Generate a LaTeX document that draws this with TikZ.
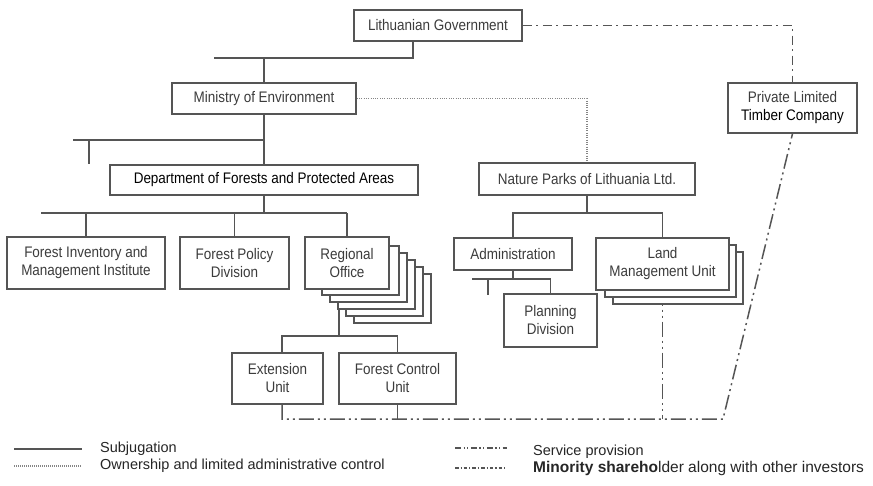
\documentclass[tikz,border=0pt]{standalone}
\usepackage{fontspec}
\setmainfont{Liberation Sans}
\newfontfamily\narrowfont[FakeStretch=0.88]{Liberation Sans}
\usetikzlibrary{calc}
\pgfdeclarelayer{background}
\pgfdeclarelayer{stack}
\pgfsetlayers{background,stack,main}
\definecolor{linegray}{HTML}{555555}
\definecolor{txtgray}{HTML}{3C3C3C}
\definecolor{dotgray}{HTML}{858585}

\begin{document}
\begin{tikzpicture}[x=1pt,y=-1pt,
  unit/.style={draw=linegray, line width=1.5pt, fill=white, inner sep=0pt,
    align=center, text=txtgray, font=\narrowfont\fontsize{15.3}{18}\selectfont},
  card/.style={draw=linegray, line width=1.5pt, fill=white},
  subj/.style={draw=linegray, line width=1.5pt},
  own/.style={draw=dotgray, line width=1.3pt, dash pattern=on 1pt off 1.3pt},
  serv/.style={draw=linegray, line width=1.5pt,
    dash pattern=on 15pt off 4pt on 2pt off 4pt on 2pt off 4pt},
  minor/.style={draw=linegray, line width=1.5pt,
    dash pattern=on 9pt off 4.5pt on 2pt off 4.5pt},
  legend/.style={anchor=west, inner sep=0pt, text=black!85,
    font=\fontsize{14.5}{17}\selectfont}
]
\useasboundingbox (0,0) rectangle (873,486);

% ---- units ----
\node[unit, minimum width=168pt, minimum height=31pt] (gov) at (438,25.5) {Lithuanian Government};
\node[unit, minimum width=184pt, minimum height=31pt] (min) at (264,98.5) {Ministry of Environment};
\node[unit, minimum width=308pt, minimum height=30pt, text=black] (dep) at (264,180) {Department of Forests and Protected Areas};
\node[unit, minimum width=158pt, minimum height=52pt] (fim) at (86,263) {Forest Inventory and\\Management Institute};
\node[unit, minimum width=109pt, minimum height=52pt] (fpd) at (234.5,263) {Forest Policy\\Division};
\node[unit, minimum width=84pt, minimum height=52pt] (reg) at (347,263) {Regional\\Office};
\node[unit, minimum width=91pt, minimum height=51pt] (ext) at (277.5,378.5) {Extension\\Unit};
\node[unit, minimum width=117pt, minimum height=51pt] (fcu) at (397.5,378.5) {Forest Control\\Unit};
\node[unit, minimum width=216pt, minimum height=32pt] (np) at (587,179) {Nature Parks of Lithuania Ltd.};
\node[unit, minimum width=118pt, minimum height=32pt] (adm) at (513,254) {Administration};
\node[unit, minimum width=93pt, minimum height=53pt] (pla) at (550.5,320.5) {Planning\\Division};
\node[unit, minimum width=133pt, minimum height=52pt] (lmu) at (662.5,264) {Land\\Management Unit};
\node[unit, minimum width=129pt, minimum height=50pt] (ptc) at (792.5,108) {Private Limited\\{\color{black}Timber Company}};

% ---- stacked copies behind the regional offices and land management units ----
\begin{pgfonlayer}{stack}
  \foreach \k in {5,4,...,1}
    \draw[card] ({314+8*\k},{239+7*\k}) rectangle ({391+8*\k},{288+7*\k});
  \foreach \k in {2,1}
    \draw[card] ({597+8*\k},{238+7*\k}) rectangle ({729+7*\k},{290+7*\k});
\end{pgfonlayer}

% ---- connectors ----
\begin{pgfonlayer}{background}
  \fill[white] (0,0) rectangle (873,486);
  % government -> ministry
  \coordinate (govbus) at (413,58);
  \coordinate (govtail) at (214,58);
  \draw[subj] (gov.south -| govbus) -- (govbus) -- (govtail);
  \draw[subj] (min.north) -- (min.north |- govbus);
  % ministry -> department
  \coordinate (minbus) at (73,140);
  \coordinate (mintick) at (89,164);
  \draw[subj] (min.south) -- (dep.north);
  \draw[subj] (min.south |- minbus) -- (minbus);
  \draw[subj] (mintick |- minbus) -- (mintick);
  % department -> its units
  \coordinate (depbus) at (41,213);
  \draw[subj] (dep.south) -- (dep.south |- depbus);
  \draw[subj] (depbus) -- (reg.north |- depbus);
  \foreach \n in {fim,fpd,reg}
    \draw[subj] (\n.north) -- (\n.north |- depbus);
  % regional office -> its units
  \coordinate (regbus) at (339,336);
  \coordinate (extx) at (282,0);
  \draw[subj] (reg.south -| regbus) -- (regbus);
  \draw[subj] (ext.north -| extx) -- (extx |- regbus) -- (fcu.north |- regbus) -- (fcu.north);
  % nature parks -> its units
  \coordinate (npbus) at (0,213);
  \draw[subj] (np.south) -- (np.south |- npbus);
  \draw[subj] (adm.north) -- (adm.north |- npbus) -- (lmu.north |- npbus) -- (lmu.north);
  \coordinate (admbus) at (472,279);
  \coordinate (admtick) at (488,295);
  \draw[subj] (adm.south) -- (adm.south |- admbus);
  \draw[subj] (admbus) -- (pla.north |- admbus) -- (pla.north);
  \draw[subj] (admtick |- admbus) -- (admtick);
  % ownership
  \draw[own] (min.east) -- (min.east -| np.north) -- (np.north);
  % minority shareholding
  \draw[minor] (gov.east) -- (gov.east -| ptc.north) -- (ptc.north);
  % service provision
  \coordinate (servbus) at (723,419);
  \draw[serv] (ext.south -| extx) -- (extx |- servbus) -- (servbus) -- (ptc.south);
  \draw[serv] (fcu.south) -- (fcu.south |- servbus);
  \draw[serv] (lmu.south) -- (lmu.south |- servbus);
\end{pgfonlayer}

% ---- legend ----
\draw[linegray, line width=1.2pt] (14,449) -- (82,449);
\draw[dotgray, line width=1.1pt, dash pattern=on 1pt off 1pt] (14,466) -- (82,466);
\draw[linegray, line width=1.1pt, dash pattern=on 6pt off 2.5pt on 1.2pt off 2.5pt on 1.2pt off 2.5pt] (455,448) -- (507,448);
\draw[linegray, line width=1.1pt, dash pattern=on 3.5pt off 2pt on 1.2pt off 2pt] (455,468) -- (507,468);
\node[legend] (l1) at (100,449) {Subjugation};
\node[legend] (l2) at (100,466) {Ownership and limited administrative control};
\node[legend] (l3) at (533,452) {Service provision};
\node[legend, font=\fontsize{15.5}{17}\selectfont] (l4) at (533,468) {{\bfseries Minority shareho}lder along with other investors};
\end{tikzpicture}
\end{document}
